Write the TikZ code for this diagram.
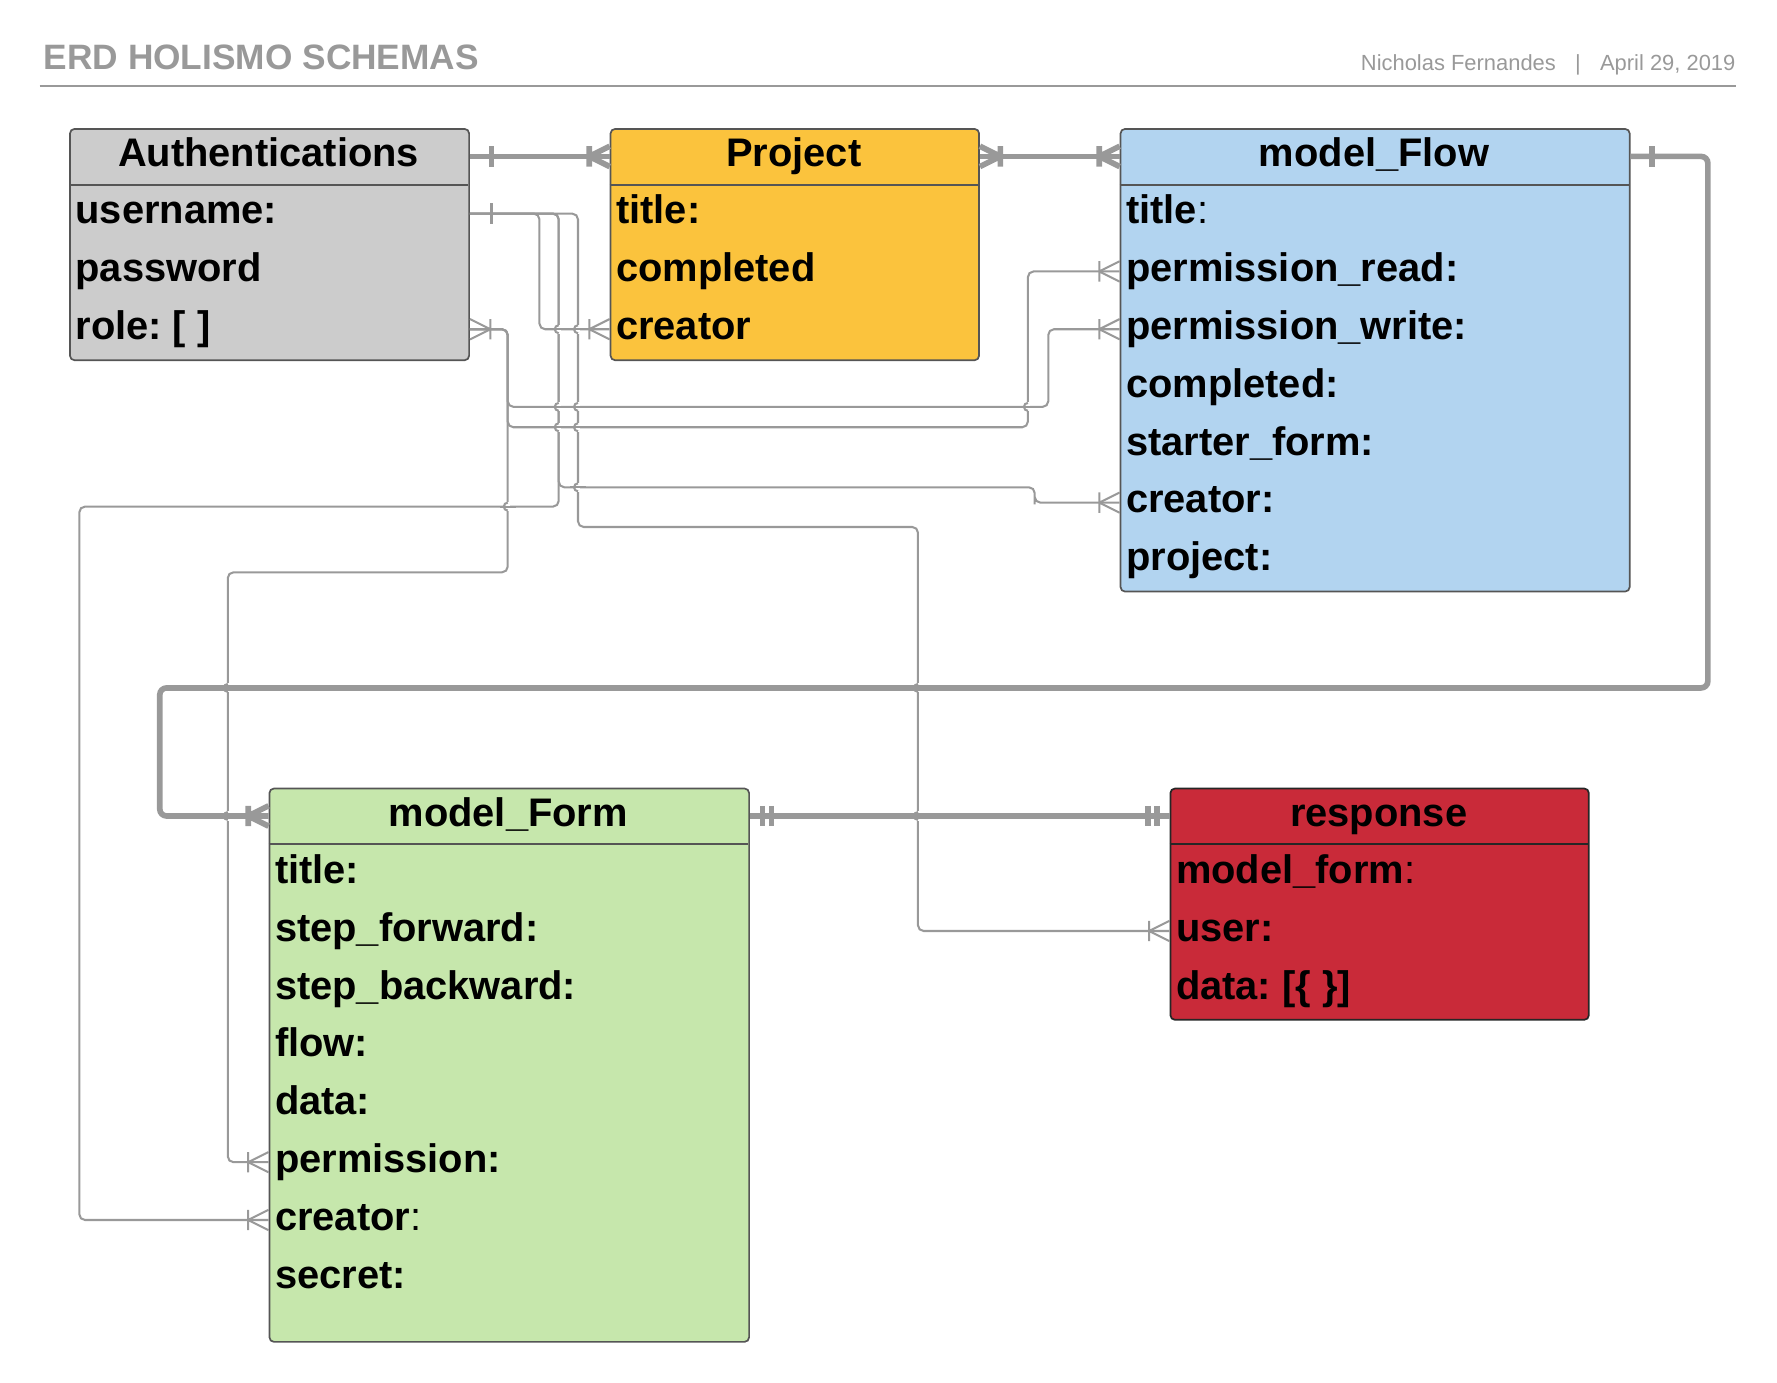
\documentclass[tikz,border=0pt]{standalone}
\usepackage{fontspec}
\setmainfont{Liberation Sans}
\usepackage{tikz}
\frenchspacing

\definecolor{linegray}{HTML}{999999}
\definecolor{headgray}{HTML}{999999}
\definecolor{boxline}{HTML}{555555}
\definecolor{authfill}{HTML}{CCCCCC}
\definecolor{projfill}{HTML}{FBC33D}
\definecolor{flowfill}{HTML}{B2D4F0}
\definecolor{formfill}{HTML}{C6E7AC}
\definecolor{respfill}{HTML}{C92A39}

% vertical line jumps over a horizontal one
\newcommand{\linehop}[3][rel]{%
  \fill[white] (#2-1.6,#3-4) rectangle (#2+1.6,#3+4);
  \draw[#1] (#2-7,#3) -- (#2+7,#3);
  \draw[rel] (#2,#3-3.5) arc[start angle=90, end angle=270, radius=0.035cm];
}

\begin{document}
\begin{tikzpicture}[x=0.01cm, y=-0.01cm,
  entity/.style={draw=boxline, line width=0.015cm, rounded corners=0.04cm, anchor=north west, inner sep=0pt},
  divider/.style={draw=boxline, line width=0.015cm},
  field/.style={anchor=west, inner xsep=0.05cm, inner ysep=0pt, text height=0.25cm, text depth=0.07cm, font=\bfseries\fontsize{10}{12}\selectfont},
  head/.style={field, anchor=center},
  rel/.style={draw=linegray, line width=0.018cm, rounded corners=0.05cm},
  relthick/.style={draw=linegray, line width=0.05cm, rounded corners=0.06cm},
  endthin/.style={draw=linegray, line width=0.018cm},
  endthick/.style={draw=linegray, line width=0.05cm},
  one/.pic={\draw[pic actions] (-19,-9) -- (-19,9);},
  many/.pic={\draw[pic actions] (-18,-9) -- (-18,9) (-18,0) -- (0,-9) (-18,0) -- (0,9);},
  onlyone/.pic={\draw[pic actions] (-11,-9) -- (-11,9) (-19,-9) -- (-19,9);}]
\useasboundingbox (0,0) rectangle (1568,1220);

% page header
\node[anchor=base west, inner sep=0pt, text=headgray, font=\bfseries\fontsize{8.85}{10}\selectfont] (title) at (38,61) {ERD HOLISMO SCHEMAS};
\node[anchor=base east, inner sep=0pt, text=headgray, font=\fontsize{5.5}{7}\selectfont] (byline) at (1532,62) {Nicholas Fernandes\hspace{0.17cm}|\hspace{0.17cm}April 29, 2019};
\draw[draw=headgray, line width=0.02cm] (35,76) -- (1532,76);

% Authentications
\node[entity, fill=authfill, minimum width=3.52cm, minimum height=2.04cm] (auth) at (61,113) {};
\draw[divider] (61,163) -- (413,163);
\node[head] (auth-h) at (237,138) {Authentications};
\node[field] (auth-user) at (61,188.5) {username:};
\node[field] (auth-pass) at (61,239.5) {password};
\node[field] (auth-role) at (61,290.5) {role: [ ]};

% Project
\node[entity, fill=projfill, minimum width=3.25cm, minimum height=2.04cm] (proj) at (538,113) {};
\draw[divider] (538,163) -- (863,163);
\node[head] (proj-h) at (700.5,138) {Project};
\node[field] (proj-title) at (538,188.5) {title:};
\node[field] (proj-done) at (538,239.5) {completed};
\node[field] (proj-creator) at (538,290.5) {creator};

% model_Flow
\node[entity, fill=flowfill, minimum width=4.49cm, minimum height=4.08cm] (flow) at (988,113) {};
\draw[divider] (988,163) -- (1437,163);
\node[head] (flow-h) at (1212.5,138) {model\_Flow};
\node[field] (flow-title) at (988,188.5) {title\textmd{:}};
\node[field] (flow-pread) at (988,239.5) {permission\_read:};
\node[field] (flow-pwrite) at (988,290.5) {permission\_write:};
\node[field] (flow-done) at (988,341.5) {completed:};
\node[field] (flow-start) at (988,392.5) {starter\_form:};
\node[field] (flow-creator) at (988,443.5) {creator:};
\node[field] (flow-proj) at (988,494.5) {project:};

% model_Form
\node[entity, fill=formfill, minimum width=4.23cm, minimum height=4.88cm] (form) at (237,695) {};
\draw[divider] (237,745) -- (660,745);
\node[head] (form-h) at (448.5,720) {model\_Form};
\node[field] (form-title) at (237,770.5) {title:};
\node[field] (form-fwd) at (237,821.5) {step\_forward:};
\node[field] (form-back) at (237,872.5) {step\_backward:};
\node[field] (form-flow) at (237,923.5) {flow:};
\node[field] (form-data) at (237,974.5) {data:};
\node[field] (form-perm) at (237,1025.5) {permission:};
\node[field] (form-creator) at (237,1076.5) {creator\textmd{:}};
\node[field] (form-secret) at (237,1127.5) {secret:};

% response
\node[entity, draw=black!85, fill=respfill, minimum width=3.69cm, minimum height=2.04cm] (resp) at (1032,695) {};
\draw[divider, draw=black!85] (1032,745) -- (1401,745);
\node[head] (resp-h) at (1216.5,720) {response};
\node[field] (resp-form) at (1032,770.5) {model\_form\textmd{:}};
\node[field] (resp-user) at (1032,821.5) {user:};
\node[field] (resp-data) at (1032,872.5) {data: [\{ \}]};

% header to header relations
\draw[relthick] (auth.east |- auth-h) -- (proj.west |- proj-h);
\draw[relthick] (proj.east |- proj-h) -- (flow.west |- flow-h);
\draw[relthick] (flow.east |- flow-h) -| (1507,400) |- (141,607) |- (form.west |- form-h);
\draw[relthick] (form.east |- form-h) -- (resp.west |- resp-h);

% field relations
\draw[rel] (auth.east |- auth-user) -| (476,240) |- (proj.west |- proj-creator);
\draw[rel] (auth.east |- auth-user) -| (493,447) -| (70,800) |- (form.west |- form-creator);
\draw[rel] (auth.east |- auth-user) -| (493,430) -| (913,440) |- (flow.west |- flow-creator);
\draw[rel] (auth.east |- auth-user) -| (510,465) -| (810,600) |- (resp.west |- resp-user);
\draw[rel] (auth.east |- auth-role) -| (448,377) -| (907,300) |- (flow.west |- flow-pread);
\draw[rel] (auth.east |- auth-role) -| (448,359) -| (925,320) |- (flow.west |- flow-pwrite);
\draw[rel] (auth.east |- auth-role) -| (448,505) -| (201,800) |- (form.west |- form-perm);

% line ends
\pic[endthick, xscale=-1] at (auth.east |- auth-h) {one};
\pic[endthick] at (proj.west |- proj-h) {many};
\pic[endthick, xscale=-1] at (proj.east |- proj-h) {many};
\pic[endthick] at (flow.west |- flow-h) {many};
\pic[endthick, xscale=-1] at (flow.east |- flow-h) {one};
\pic[endthick] at (form.west |- form-h) {many};
\pic[endthick, xscale=-1] at (form.east |- form-h) {onlyone};
\pic[endthick] at (resp.west |- resp-h) {onlyone};
\pic[endthin, xscale=-1] at (auth.east |- auth-user) {one};
\pic[endthin, xscale=-1] at (auth.east |- auth-role) {many};
\pic[endthin] at (proj.west |- proj-creator) {many};
\pic[endthin] at (flow.west |- flow-pread) {many};
\pic[endthin] at (flow.west |- flow-pwrite) {many};
\pic[endthin] at (flow.west |- flow-creator) {many};
\pic[endthin] at (form.west |- form-perm) {many};
\pic[endthin] at (form.west |- form-creator) {many};
\pic[endthin] at (resp.west |- resp-user) {many};

% line jumps
\linehop[relthick]{201}{607}
\linehop[relthick]{201}{720}
\linehop[relthick]{810}{607}
\linehop[relthick]{810}{720}
\linehop{448}{447}
\linehop{493}{290.5}
\linehop{493}{359}
\linehop{493}{377}
\linehop{510}{290.5}
\linehop{510}{359}
\linehop{510}{377}
\linehop{510}{430}
\linehop{907}{359}
\end{tikzpicture}
\end{document}
